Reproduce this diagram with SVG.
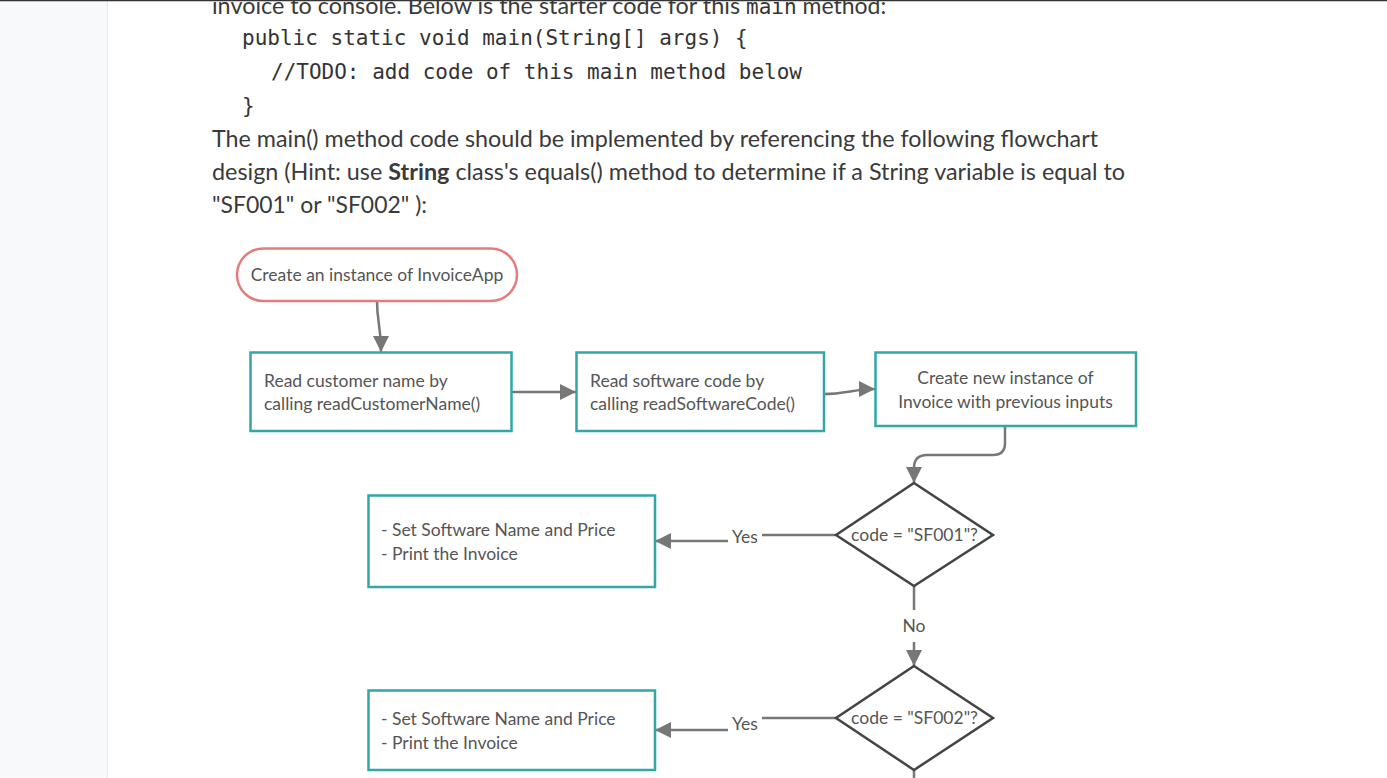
<svg xmlns="http://www.w3.org/2000/svg" width="1387" height="778" viewBox="0 0 1387 778">
<defs>
<style>
.body{font-family:Lato,"Open Sans",sans-serif;font-size:23px;fill:#3a3a3a}
.mono{font-family:"DejaVu Sans Mono","Liberation Mono",monospace;font-size:21px;fill:#333}
.lbl{font-family:Lato,"Open Sans",sans-serif;font-size:17.5px;fill:#555}
.proc{fill:#fff;stroke:#33a7a7;stroke-width:2.5}
.term{fill:#fff;stroke:#e57c7c;stroke-width:2.5}
.dec{fill:#fff;stroke:#444;stroke-width:2.5}
.conn{fill:none;stroke:#777;stroke-width:2.5}
</style>
<marker id="ah" viewBox="0 0 16 16" refX="16" refY="8" markerWidth="16" markerHeight="16" markerUnits="userSpaceOnUse" orient="auto">
<path d="M0,0 L16,8 L0,16 z" fill="#777"/>
</marker>
</defs>
<rect x="0" y="0" width="1387" height="778" fill="#fff"/>
<rect x="0" y="0" width="107" height="778" fill="#f8f9fb"/>
<line x1="107.5" y1="0" x2="107.5" y2="778" stroke="#e6e8ec" stroke-width="1"/>
<line x1="0" y1="0.5" x2="1387" y2="0.5" stroke="#333" stroke-width="1.5"/>

<g id="text">
<text class="body" x="212" y="14"><tspan textLength="534" lengthAdjust="spacingAndGlyphs">invoice to console. Below is the starter code for this </tspan><tspan class="mono" font-size="20">main</tspan><tspan> method:</tspan></text>
<text class="mono" x="242" y="45">public static void main(String[] args) {</text>
<text class="mono" x="271" y="79">//TODO: add code of this main method below</text>
<text class="mono" x="242" y="113">}</text>
<text class="body" x="212" y="147" textLength="886" lengthAdjust="spacingAndGlyphs">The main() method code should be implemented by referencing the following flowchart</text>
<text class="body" x="212" y="180" textLength="913" lengthAdjust="spacingAndGlyphs">design (Hint: use <tspan font-weight="bold">String</tspan> class's equals() method to determine if a String variable is equal to</text>
<text class="body" x="212" y="213" textLength="215" lengthAdjust="spacingAndGlyphs">"SF001" or "SF002" ):</text>
</g>

<g id="connectors">
<path class="conn" d="M377,301 C377,322 381,326 381,352" marker-end="url(#ah)"/>
<path class="conn" d="M511,392 L576,392" marker-end="url(#ah)"/>
<path class="conn" d="M824,394 C845,394 855,389 875,389" marker-end="url(#ah)"/>
<path class="conn" d="M1005,426 L1005,443 Q1005,455 993,455 L927,455 Q914,455 914,468 L914,483" marker-end="url(#ah)"/>
<path class="conn" d="M836,535 L762,535"/>
<path class="conn" d="M728,541 L655,541" marker-end="url(#ah)"/>
<path class="conn" d="M914,586 L914,610"/>
<path class="conn" d="M914,642 L914,666" marker-end="url(#ah)"/>
<path class="conn" d="M836,718 L762,718"/>
<path class="conn" d="M728,730 L655,730" marker-end="url(#ah)"/>
<path class="conn" d="M914,770 L914,778"/>
<text class="lbl" x="745" y="543" text-anchor="middle">Yes</text>
<text class="lbl" x="914" y="632" text-anchor="middle">No</text>
<text class="lbl" x="745" y="730" text-anchor="middle">Yes</text>
</g>

<g id="start">
<rect class="term" x="237" y="248.5" width="280" height="52.5" rx="26.25"/>
<text class="lbl" x="377" y="281" text-anchor="middle">Create an instance of InvoiceApp</text>
</g>
<g id="readCustomer">
<rect class="proc" x="250.5" y="352.5" width="261" height="78.5"/>
<text class="lbl" x="264" y="387">Read customer name by</text>
<text class="lbl" x="264" y="410">calling readCustomerName()</text>
</g>
<g id="readSoftware">
<rect class="proc" x="576.5" y="352.5" width="247.5" height="78.5"/>
<text class="lbl" x="590" y="387">Read software code by</text>
<text class="lbl" x="590" y="410">calling readSoftwareCode()</text>
</g>
<g id="createInvoice">
<rect class="proc" x="875.5" y="352.5" width="260.5" height="73.5"/>
<text class="lbl" x="1005.5" y="384" text-anchor="middle">Create new instance of</text>
<text class="lbl" x="1005.5" y="408" text-anchor="middle">Invoice with previous inputs</text>
</g>
<g id="decision1">
<polygon class="dec" points="914,483 993,535 914,586 836,535"/>
<text class="lbl" x="914.5" y="541" text-anchor="middle">code = "SF001"?</text>
</g>
<g id="action1">
<rect class="proc" x="368.5" y="495.5" width="286.5" height="91.5"/>
<text class="lbl" x="381" y="536">- Set Software Name and Price</text>
<text class="lbl" x="381" y="560">- Print the Invoice</text>
</g>
<g id="decision2">
<polygon class="dec" points="914,666 993,718 914,770 836,718"/>
<text class="lbl" x="914.5" y="724" text-anchor="middle">code = "SF002"?</text>
</g>
<g id="action2">
<rect class="proc" x="368.5" y="690.5" width="286.5" height="79.5"/>
<text class="lbl" x="381" y="725">- Set Software Name and Price</text>
<text class="lbl" x="381" y="749">- Print the Invoice</text>
</g>
</svg>
